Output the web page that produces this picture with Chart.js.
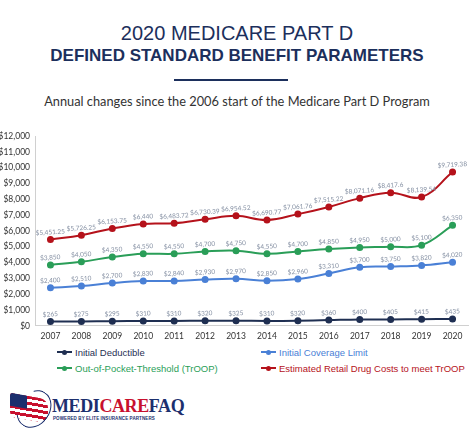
<!DOCTYPE html>
<html>
<head>
<meta charset="utf-8">
<script src="https://cdn.jsdelivr.net/npm/chart.js@4.4.1/dist/chart.umd.min.js"></script>
<style>
  body { margin: 0; background: #fff; width: 474px; height: 431px; overflow: hidden; position: relative; font-family: "Liberation Sans", Arial, sans-serif; }
  .t1 { position: absolute; top: 22px; left: 0; width: 474px; text-align: center; font-size: 20px; color: #1c2f5c; }
  .t2 { position: absolute; top: 46px; left: 0; width: 474px; text-align: center; font-size: 17px; font-weight: bold; color: #1c2f5c; }
  .rule { position: absolute; top: 79px; left: 174px; width: 114px; height: 2px; background: #1c2f5c; }
  .sub { position: absolute; top: 93px; left: 0; width: 474px; text-align: center; font-family: Lato, sans-serif; font-size: 12.8px; color: #333; }
  #wrap { position: absolute; left: 0; top: 122px; width: 474px; height: 224px; }
  .legend { position: absolute; top: 346px; left: 0; width: 474px; height: 34px; font-size: 9.5px; }
  .item { position: absolute; display: flex; align-items: center; height: 12px; white-space: nowrap; }
  .sw { position: relative; width: 15px; height: 2px; margin-right: 3px; }
  .sw i { position: absolute; left: 5px; top: -1.5px; width: 5px; height: 5px; border-radius: 50%; background: inherit; }
  .logo { position: absolute; left: 8px; top: 388px; width: 160px; height: 40px; }
  .flag { position: absolute; left: 2px; top: 8px; width: 38px; height: 24px; transform: skewY(10deg);
    background: repeating-linear-gradient(180deg, #c8102e 0 3px, #fff 3px 6px); border-radius: 3px 8px 10px 5px; }
  .flag b { position: absolute; left: 0; top: 0; width: 17px; height: 13px; background: #1c2f6e; border-radius: 3px 0 0 0; }
  .orbit { position: absolute; left: 10px; top: 1px; width: 30px; height: 38px; border: 1.5px solid #1c2f6e; border-radius: 50%; transform: rotate(35deg); border-left-color: transparent; }
  .brand { position: absolute; left: 44px; top: 8px; font-family: "Liberation Serif", serif; font-weight: bold; font-size: 18px; color: #1c2f6e; letter-spacing: -0.4px; }
  .brand span { color: #c8102e; }
  .pow { position: absolute; left: 45px; top: 28px; font-size: 4.5px; font-weight: bold; color: #1c2f6e; letter-spacing: 0.1px; }
</style>
</head>
<body>
<div class="t1">2020 MEDICARE PART D</div>
<div class="t2">DEFINED STANDARD BENEFIT PARAMETERS</div>
<div class="rule"></div>
<div class="sub">Annual changes since the 2006 start of the Medicare Part D Program</div>
<div id="wrap"><canvas id="mainChart"></canvas></div>
<div class="legend" id="legend"></div>
<div class="logo">
  <div class="flag"><b></b></div>
  <div class="orbit"></div>
  <div class="brand">MEDI<span>CARE</span>FAQ</div>
  <div class="pow">POWERED BY ELITE INSURANCE PARTNERS</div>
</div>
<script>
const main = document.getElementById("mainChart");

let years = ["2007", "2008", "2009", "2010", "2011", "2012", "2013", "2014", "2015", "2016", "2017", "2018", "2019", "2020"];
let deductible = [265, 275, 295, 310, 310, 320, 325, 310, 320, 360, 400, 405, 415, 435];
let coverageLimit = [2400, 2510, 2700, 2830, 2840, 2930, 2970, 2850, 2960, 3310, 3700, 3750, 3820, 4020];
let troop = [3850, 4050, 4350, 4550, 4550, 4700, 4750, 4550, 4700, 4850, 4950, 5000, 5100, 6350];
let retailCosts = [5451.25, 5726.25, 6153.75, 6440, 6483.72, 6730.39, 6954.52, 6690.77, 7061.76, 7515.22, 8071.16, 8417.6, 8139.54, 9719.38];

let seriesNames = ["Initial Deductible", "Initial Coverage Limit", "Out-of-Pocket-Threshold (TrOOP)", "Estimated Retail Drug Costs to meet TrOOP"];
let seriesColors = ["#1f2f52", "#4a80d6", "#2a9e58", "#b5121b"];
let seriesData = [deductible, coverageLimit, troop, retailCosts];

function money(v) {
    return "$" + v.toLocaleString("en-US", { maximumFractionDigits: 2 });
}

// little value labels above each point
const pointLabels = {
    id: "pointLabels",
    afterDatasetsDraw(chart) {
        const ctx = chart.ctx;
        ctx.save();
        ctx.font = "6.5px Lato, sans-serif";
        ctx.fillStyle = "#8590a3";
        ctx.textAlign = "center";
        ctx.textBaseline = "bottom";
        chart.data.datasets.forEach((ds, i) => {
            chart.getDatasetMeta(i).data.forEach((pt, j) => {
                ctx.save();
                ctx.translate(pt.x, pt.y - 4);
                ctx.rotate(-0.06);
                ctx.fillText(money(ds.data[j]), 0, 0);
                ctx.restore();
            });
        });
        ctx.restore();
    }
};

new Chart(main, {
    type: "line",
    data: {
        labels: years,
        datasets: seriesData.map((d, i) => ({
            label: seriesNames[i],
            data: d,
            borderColor: seriesColors[i],
            backgroundColor: seriesColors[i],
            borderWidth: 2,
            pointRadius: 2.5,
            pointHoverRadius: 2.5,
            tension: 0.4
        }))
    },
    options: {
        animation: false,
        responsive: true,
        maintainAspectRatio: false,
        layout: { padding: { top: 14, right: 6, left: 0, bottom: 0 } },
        plugins: {
            legend: { display: false },
            tooltip: { enabled: false }
        },
        scales: {
            x: {
                offset: true,
                grid: { display: false, drawTicks: false },
                border: { color: "#d0d0d0" },
                ticks: { color: "#333", font: { family: "Lato", size: 8.5 }, padding: 5 }
            },
            y: {
                min: 0,
                max: 12000,
                grid: { display: false, drawTicks: false },
                border: { color: "#d0d0d0" },
                ticks: {
                    stepSize: 1000,
                    color: "#333",
                    font: { family: "Lato", size: 8.5 },
                    padding: 5,
                    callback: v => money(v)
                },
                afterFit(scale) { scale.width = 35; }
            }
        }
    },
    plugins: [pointLabels]
});

// two-column legend
const legend = document.getElementById("legend");
const spots = [[57, 0], [261, 0], [57, 16], [261, 16]];
seriesNames.forEach((name, i) => {
    const el = document.createElement("div");
    el.className = "item";
    el.style.left = spots[i][0] + "px";
    el.style.top = spots[i][1] + "px";
    el.style.color = seriesColors[i];
    el.innerHTML = '<div class="sw" style="background:' + seriesColors[i] + '"><i></i></div>' + name;
    legend.appendChild(el);
});
</script>
</body>
</html>
